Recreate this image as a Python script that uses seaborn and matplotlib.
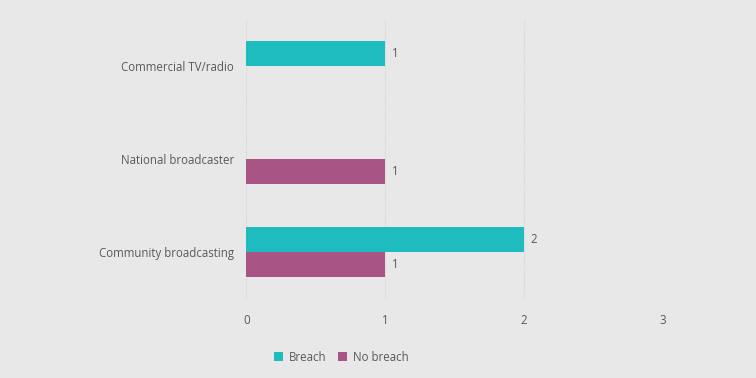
import matplotlib
matplotlib.use("Agg")
import matplotlib.pyplot as plt
import seaborn as sns
import pandas as pd

categories = ["Commercial TV/radio", "National broadcaster", "Community broadcasting"]
series = ["Breach", "No breach"]
breach = [1, None, 2]
no_breach = [None, 1, 1]
colors = ["#1fbcbf", "#a85586"]
xticks = [0, 1, 2, 3]

rows = []
for c, b, n in zip(categories, breach, no_breach):
    if b is not None:
        rows.append({"Category": c, "Outcome": "Breach", "Count": b})
    if n is not None:
        rows.append({"Category": c, "Outcome": "No breach", "Count": n})
df = pd.DataFrame(rows)

sns.set_theme(style="white")
plt.rcParams["font.family"] = ["Open Sans", "DejaVu Sans"]
bg = "#e8e8e8"
txt = "#595959"
fs = 8.3

fig = plt.figure(figsize=(7.56, 3.78), dpi=100, facecolor=bg)
ax = fig.add_axes([0.326, 0.209, 0.550, 0.741])
ax.set_facecolor(bg)

sns.barplot(data=df, y="Category", x="Count", hue="Outcome",
            order=categories, hue_order=series, palette=colors,
            orient="h", width=0.535, dodge=True, ax=ax, legend=True,
            saturation=1, linewidth=0, edgecolor="none")

for cont in ax.containers:
    ax.bar_label(cont, fmt="%g", padding=5, fontsize=fs, color=txt)

ax.set_xlim(0, 3)
ax.set_xticks(xticks)
ax.set_xticklabels([str(t) for t in xticks])
ax.grid(axis="x", color="#d4d4d4", linestyle=(0, (1, 1)), linewidth=0.8)
ax.set_axisbelow(True)
for s in ax.spines.values():
    s.set_visible(False)
ax.tick_params(axis="both", length=0, labelsize=fs, labelcolor=txt)
ax.tick_params(axis="x", pad=11)
ax.tick_params(axis="y", pad=9)
ax.set_xlabel("")
ax.set_ylabel("")

leg = ax.legend(loc="center", ncol=2, frameon=False,
                fontsize=fs, handlelength=0.8, handleheight=0.8,
                handletextpad=0.5, columnspacing=1.0)
leg.set_bbox_to_anchor((0.451, 0.055), transform=fig.transFigure)
for t in leg.get_texts():
    t.set_color(txt)

fig.savefig("out.png", dpi=100, facecolor=bg)
